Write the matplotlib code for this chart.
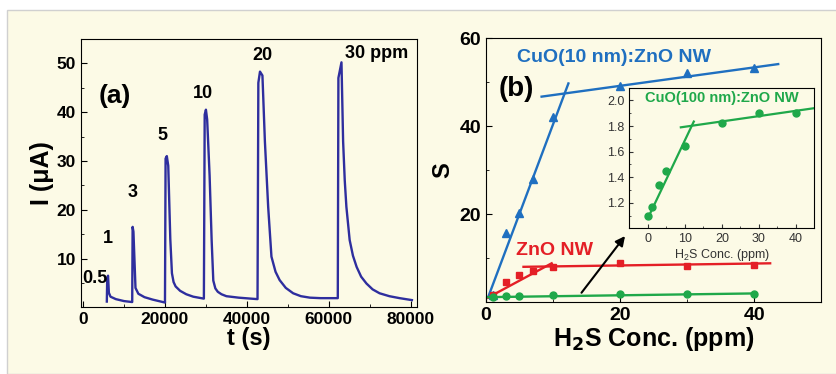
import numpy as np
import matplotlib.pyplot as plt
from matplotlib.patches import Rectangle

plt.rcParams['font.family'] = ['Liberation Sans', 'DejaVu Sans']
plt.rcParams['font.weight'] = 'bold'
plt.rcParams['axes.labelweight'] = 'bold'
plt.rcParams['mathtext.default'] = 'regular'

# -------------------------------
# Data: (a) transient current
# -------------------------------
t_s = [5800, 5900, 6100, 6300, 6700, 8000, 10000, 12000,
       12100, 12300, 12800, 13500, 15000, 17000, 19000, 20000,
       20150, 20450, 20800, 21300, 21700, 22100, 22600, 23700, 25200, 26900, 29500,
       29700, 30000, 30300, 30900, 31400, 31800, 32300, 32900, 33800, 35000, 38000, 41000, 42600,
       42800, 43200, 43800, 44400, 45200, 46000, 47000, 48000, 49500, 51300, 53200, 55400, 58000, 62200,
       62350, 63100, 63500, 63900, 64300, 65100, 65900, 66800, 67900, 69200, 70700, 72400,
       74800, 77300, 80300]
i_uA = [1.2, 6.0, 6.5, 3.0, 2.2, 1.7, 1.3, 1.1,
        16.5, 15.5, 4.0, 2.8, 2.1, 1.6, 1.2, 1.0,
        30.5, 31.0, 29.0, 14.0, 7.0, 5.2, 4.3, 3.4, 2.7, 2.2, 1.8,
        39.5, 40.5, 38.5, 27.0, 13.7, 5.5, 3.9, 3.2, 2.7, 2.3, 2.0, 1.8, 1.7,
        46.0, 48.3, 47.5, 34.0, 20.6, 10.4, 7.3, 5.6, 4.0, 2.9, 2.3, 2.0, 1.9, 1.9,
        47.0, 50.2, 34.0, 26.0, 20.6, 13.8, 10.6, 8.3, 6.3, 4.9, 3.7, 2.9,
        2.3, 1.9, 1.5]
pulse_labels = ["0.5", "1", "3", "5", "10", "20", "30 ppm"]
pulse_label_t = [2900, 6100, 12200, 19500, 29300, 43700, 63900]
pulse_label_i = [6.0, 14.2, 23.6, 35.2, 43.8, 51.5, 52.1]

# -------------------------------
# Data: (b) sensitivity
# -------------------------------
cuo10_x = [1, 3, 5, 7, 10, 20, 30, 40]
cuo10_s = [1.5, 15.7, 20.3, 28.0, 42.0, 49.1, 52.0, 53.1]
zno_x = [1, 3, 5, 7, 10, 20, 30, 40]
zno_s = [1.5, 4.6, 6.1, 7.1, 8.0, 8.8, 8.3, 8.5]
cuo100_x = [0, 1, 3, 5, 10, 20, 30, 40]
cuo100_s = [1.1, 1.17, 1.34, 1.45, 1.64, 1.82, 1.90, 1.90]

# fit line end points
cuo10_fit1 = ([0.3, 12.3], [1.0, 49.7])
cuo10_fit2 = ([8.3, 43.6], [46.7, 54.1])
zno_fit1 = ([0.3, 9.8], [1.0, 8.8])
zno_fit2 = ([5.6, 42.4], [8.0, 8.8])
cuo100_main = ([0, 40], [1.1, 1.95])
cuo100_fit1 = ([0, 12.4], [1.08, 1.835])
cuo100_fit2 = ([8.9, 45], [1.79, 1.94])

navy = '#2e2e9e'
blue = '#1f6fc0'
red = '#e41f26'
green = '#1fa84a'
cream = '#fcfae6'

fig = plt.figure(figsize=(8.37, 3.74), dpi=100)
fig.patch.set_facecolor('white')
fig.patches.append(Rectangle((7 / 837, 0), 1, 1 - 10 / 374, transform=fig.transFigure,
                             facecolor=cream, edgecolor='#d0d0d0', lw=1, zorder=-10))

# ==========================================================
# (a)
# ==========================================================
ax1 = fig.add_axes([0.0968, 0.178, 0.4012, 0.718])
ax1.set_facecolor('none')
ax1.plot(t_s, i_uA, color=navy, lw=1.7)
ax1.set_xlim(-500, 81500)
ax1.set_ylim(0, 55)
ax1.set_xticks([0, 20000, 40000, 60000, 80000])
ax1.set_xticks([10000, 30000, 50000, 70000], minor=True)
ax1.set_yticks([10, 20, 30, 40, 50])
ax1.set_yticks([5, 15, 25, 35, 45], minor=True)
ax1.tick_params(which='both', direction='in', labelsize=12.5)
ax1.tick_params(which='major', length=4)
ax1.tick_params(which='minor', length=2)
ax1.set_xlabel('t (s)', fontsize=17, labelpad=0)
ax1.set_ylabel('I (\u03bcA)', fontsize=18, labelpad=2)
for lab, tx, iy in zip(pulse_labels, pulse_label_t, pulse_label_i):
    ha = 'left' if lab == '30 ppm' else 'center'
    ax1.text(tx, iy, lab, ha=ha, va='center', fontsize=13, fontweight='bold')
ax1.text(7800, 43.4, '(a)', ha='center', va='center', fontsize=19, fontweight='bold')

# ==========================================================
# (b)
# ==========================================================
ax2 = fig.add_axes([0.5806, 0.1925, 0.4004, 0.7055])
ax2.set_facecolor('none')
ax2.plot(*cuo10_fit1, color=blue, lw=1.7)
ax2.plot(*cuo10_fit2, color=blue, lw=1.7)
ax2.plot(cuo10_x, cuo10_s, '^', color=blue, ms=6)
ax2.plot(*zno_fit1, color=red, lw=1.7)
ax2.plot(*zno_fit2, color=red, lw=1.7)
ax2.plot(zno_x, zno_s, 's', color=red, ms=5)
ax2.plot(*cuo100_main, color=green, lw=1.7)
ax2.plot(cuo100_x[1:], cuo100_s[1:], 'o', color=green, ms=5)
ax2.annotate('', xy=(21, 15.5), xytext=(14, 1.6),
             arrowprops=dict(arrowstyle='-|>', color='black', lw=1.5, mutation_scale=14))
ax2.set_xlim(0, 50)
ax2.set_ylim(0, 60)
ax2.set_xticks([0, 20, 40])
ax2.set_xticks([10, 30], minor=True)
ax2.set_yticks([20, 40, 60])
ax2.set_yticks([10, 30, 50], minor=True)
ax2.tick_params(which='both', direction='in', labelsize=14)
ax2.tick_params(which='major', length=4)
ax2.tick_params(which='minor', length=2)
ax2.set_xlabel('H$_\\mathbf{2}$S Conc. (ppm)', fontsize=18, labelpad=1)
ax2.set_ylabel('S', fontsize=17, labelpad=4)
ax2.text(4.7, 55.7, 'CuO(10 nm):ZnO NW', color=blue, fontsize=14, va='center', ha='left')
ax2.text(4.5, 48.4, '(b)', fontsize=20, va='center', ha='center')
ax2.text(4.55, 11.8, 'ZnO NW', color=red, fontsize=14, va='center', ha='left')

# ==========================================================
# inset
# ==========================================================
ax3 = fig.add_axes([0.752, 0.3896, 0.221, 0.3759])
ax3.set_facecolor(cream)
ax3.plot(*cuo100_fit1, color=green, lw=1.6)
ax3.plot(*cuo100_fit2, color=green, lw=1.6)
ax3.plot(cuo100_x, cuo100_s, 'o', color=green, ms=5)
ax3.set_xlim(-5, 45)
ax3.set_ylim(1.0, 2.1)
ax3.set_xticks([0, 10, 20, 30, 40])
ax3.set_xticks([5, 15, 25, 35], minor=True)
ax3.set_yticks([1.2, 1.4, 1.6, 1.8, 2.0])
ax3.set_yticks([1.1, 1.3, 1.5, 1.7, 1.9], minor=True)
ax3.set_yticklabels(['1.2', '1.4', '1.6', '1.8', '2.0'])
ax3.tick_params(which='both', direction='in', labelsize=9, colors='#333333')
ax3.tick_params(which='major', length=3)
ax3.tick_params(which='minor', length=1.5)
for lbl in ax3.get_xticklabels() + ax3.get_yticklabels():
    lbl.set_fontweight('normal')
ax3.set_xlabel('H$_2$S Conc. (ppm)', fontsize=9, fontweight='normal',
               color='#333333', labelpad=1)
ax3.text(0.5, 0.93, 'CuO(100 nm):ZnO NW', transform=ax3.transAxes, color=green,
         fontsize=10.5, ha='center', va='center')

fig.savefig('out.png', dpi=100)
plt.close()
